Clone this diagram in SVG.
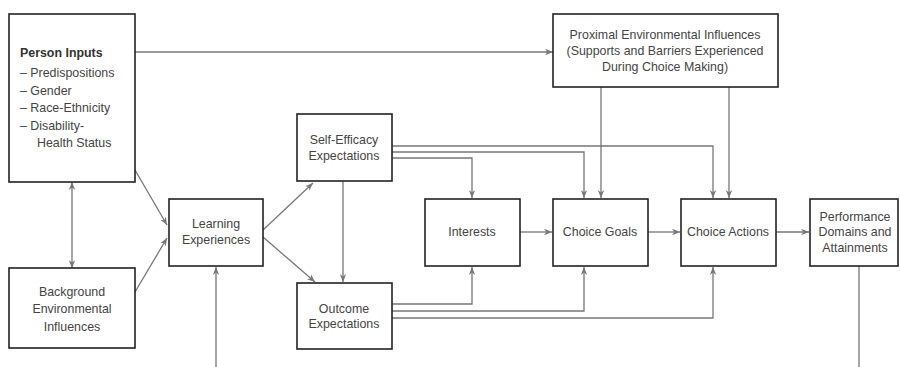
<svg xmlns="http://www.w3.org/2000/svg" width="900" height="367" viewBox="0 0 900 367">
<style>
.box{fill:#fff;stroke:#222;stroke-width:1.6}
.t{font-family:"Liberation Sans",Arial,sans-serif;font-size:12.4px;fill:#444;text-anchor:middle}
.tl{font-family:"Liberation Sans",Arial,sans-serif;font-size:12.4px;fill:#444}
.b{font-weight:bold;font-size:12.4px;fill:#333}
.c{fill:none;stroke:#777;stroke-width:1.3;marker-end:url(#ah)}
.cn{fill:none;stroke:#777;stroke-width:1.3}
</style>
<defs>
<marker id="ah" viewBox="0 0 10 10" refX="10" refY="5" markerWidth="8" markerHeight="8" markerUnits="userSpaceOnUse" orient="auto-start-reverse">
<path d="M0,1 L10,5 L0,9 L3,5 Z" fill="#777"/>
</marker>
</defs>
<rect width="900" height="367" fill="#fff"/>
<g id="connectors">
<path class="c" d="M135,52 H553"/>
<path class="c" d="M72,182 V268" marker-start="url(#ah)"/>
<path class="c" d="M135,170 L167,225"/>
<path class="c" d="M135,292 L167,238"/>
<path class="c" d="M216,367 V267"/>
<path class="c" d="M263,230 L313,183"/>
<path class="c" d="M263,237 L315,282"/>
<path class="c" d="M343,181 V282"/>
<path class="c" d="M392,146 H713 V198"/>
<path class="c" d="M392,152 H584 V198"/>
<path class="c" d="M392,158 H472 V198"/>
<path class="c" d="M392,304 H472 V267"/>
<path class="c" d="M392,311 H584 V267"/>
<path class="c" d="M392,318 H713 V267"/>
<path class="c" d="M601,87 V198"/>
<path class="c" d="M729,87 V198"/>
<path class="c" d="M520,232 H552"/>
<path class="c" d="M648,232 H680"/>
<path class="c" d="M776,232 H809"/>
<path class="cn" d="M859,266 V367"/>
</g>
<g id="person-inputs">
<rect class="box" x="9" y="14" width="126" height="168"/>
<text class="tl b" x="20" y="57">Person Inputs</text>
<text class="tl" x="20" y="77">– Predispositions</text>
<text class="tl" x="20" y="95">– Gender</text>
<text class="tl" x="20" y="112">– Race-Ethnicity</text>
<text class="tl" x="20" y="130">– Disability-</text>
<text class="tl" x="37" y="147">Health Status</text>
</g>
<g id="background">
<rect class="box" x="9" y="268" width="126" height="80"/>
<text class="t" x="72" y="296">Background</text>
<text class="t" x="72" y="313">Environmental</text>
<text class="t" x="72" y="331">Influences</text>
</g>
<g id="learning">
<rect class="box" x="169" y="199" width="94" height="67"/>
<text class="t" x="216" y="228">Learning</text>
<text class="t" x="216" y="244">Experiences</text>
</g>
<g id="self-efficacy">
<rect class="box" x="297" y="114" width="95" height="67"/>
<text class="t" x="344" y="144">Self-Efficacy</text>
<text class="t" x="344" y="160">Expectations</text>
</g>
<g id="outcome">
<rect class="box" x="297" y="283" width="95" height="66"/>
<text class="t" x="344" y="313">Outcome</text>
<text class="t" x="344" y="328">Expectations</text>
</g>
<g id="interests">
<rect class="box" x="425" y="199" width="95" height="67"/>
<text class="t" x="472" y="236">Interests</text>
</g>
<g id="choice-goals">
<rect class="box" x="553" y="199" width="95" height="67"/>
<text class="t" x="600" y="236">Choice Goals</text>
</g>
<g id="choice-actions">
<rect class="box" x="681" y="199" width="95" height="67"/>
<text class="t" x="728" y="236">Choice Actions</text>
</g>
<g id="performance">
<rect class="box" x="810" y="199" width="88" height="67"/>
<text class="t" x="855" y="221">Performance</text>
<text class="t" x="855" y="236">Domains and</text>
<text class="t" x="855" y="252">Attainments</text>
</g>
<g id="proximal">
<rect class="box" x="553" y="14" width="225" height="73"/>
<text class="t" x="665" y="39">Proximal Environmental Influences</text>
<text class="t" x="665" y="55">(Supports and Barriers Experienced</text>
<text class="t" x="665" y="71">During Choice Making)</text>
</g>
</svg>
